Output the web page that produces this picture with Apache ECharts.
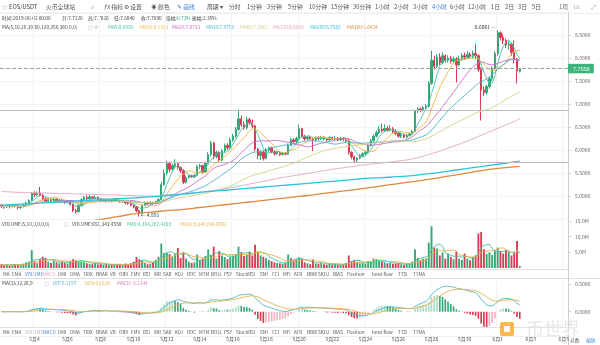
<!DOCTYPE html>
<html><head><meta charset="utf-8">
<script src="https://cdn.jsdelivr.net/npm/echarts/dist/echarts.min.js"></script>
<style>html,body{margin:0;padding:0;background:#fff}#c{width:600px;height:345px}</style>
</head><body><div id="c"></div>
<script>
// ---- categories ----
const days = ['5月2','5月3','5月4','5月5','5月6','5月7','5月8','5月9','5月10','5月11','5月12','5月13','5月14','5月15','5月16','5月17','5月18','5月19','5月20','5月21','5月22','5月23','5月24','5月25','5月26','5月27','5月28','5月29','5月30','5月31','6月1','6月2','6月3','6月4','6月5'];
const hours = ['00:00','04:00','08:00','12:00','16:00','20:00'];
const slotCount = 206;

// ---- 4h candles (EOS/USDT) ----
const open = [4.80,4.78,4.76,4.79,4.77,4.80,4.78,4.75,4.77,4.81,4.85,4.90,5.05,5.03,5.06,5.02,4.94,4.88,4.92,4.90,4.93,4.89,4.91,4.88,4.86,4.88,4.82,4.68,4.66,4.80,4.92,4.97,4.94,4.98,4.95,4.97,4.93,4.90,4.91,4.88,4.90,4.89,4.92,4.90,4.87,4.88,4.85,4.84,4.80,4.76,4.68,4.62,4.80,4.85,4.83,4.86,4.84,4.88,4.92,5.25,5.50,5.71,5.58,5.66,5.70,5.62,5.55,5.30,5.40,5.44,5.42,5.45,5.64,5.66,5.52,5.72,5.90,6.15,5.86,5.95,5.78,5.98,6.10,6.05,6.22,6.30,6.45,6.68,6.55,6.48,6.66,6.60,6.52,6.02,5.88,5.95,5.82,6.00,6.05,5.96,5.92,5.95,5.90,5.93,5.91,6.10,6.22,6.18,6.25,6.46,6.30,6.24,6.28,6.25,6.22,6.27,6.25,6.28,6.24,6.22,6.27,6.24,6.26,6.22,6.25,6.23,6.20,5.95,5.85,5.78,5.82,5.88,5.92,5.95,6.10,6.20,6.30,6.38,6.45,6.42,6.47,6.43,6.46,6.40,6.36,6.30,6.33,6.28,6.32,6.35,6.40,6.85,6.89,6.86,6.92,6.95,7.45,7.95,7.82,8.02,7.90,8.05,7.95,8.00,7.93,7.98,7.85,7.98,8.05,8.02,8.08,8.03,8.10,8.05,7.75,7.30,7.25,7.38,7.55,7.78,8.10,8.55,8.45,8.38,8.28,8.30,8.12,7.98,7.712];
const close = [4.78,4.76,4.79,4.77,4.80,4.78,4.75,4.77,4.81,4.85,4.90,5.05,5.03,5.06,5.02,4.94,4.88,4.92,4.90,4.93,4.89,4.91,4.88,4.86,4.88,4.82,4.68,4.66,4.80,4.92,4.97,4.94,4.98,4.95,4.97,4.93,4.90,4.91,4.88,4.90,4.89,4.92,4.90,4.87,4.88,4.85,4.84,4.80,4.76,4.68,4.62,4.80,4.85,4.83,4.86,4.84,4.88,4.92,5.25,5.50,5.71,5.58,5.66,5.70,5.62,5.55,5.30,5.40,5.44,5.42,5.45,5.64,5.66,5.52,5.72,5.90,6.15,5.86,5.95,5.78,5.98,6.10,6.05,6.22,6.30,6.45,6.68,6.55,6.48,6.66,6.60,6.52,6.02,5.88,5.95,5.82,6.00,6.05,5.96,5.92,5.95,5.90,5.93,5.91,6.10,6.22,6.18,6.25,6.46,6.30,6.24,6.28,6.25,6.22,6.27,6.25,6.28,6.24,6.22,6.27,6.24,6.26,6.22,6.25,6.23,6.20,5.95,5.85,5.78,5.82,5.88,5.92,5.95,6.10,6.20,6.30,6.38,6.45,6.42,6.47,6.43,6.46,6.40,6.36,6.30,6.33,6.28,6.32,6.35,6.40,6.85,6.89,6.86,6.92,6.95,7.45,7.95,7.82,8.02,7.90,8.05,7.95,8.00,7.93,7.98,7.85,7.98,8.05,8.02,8.08,8.03,8.10,8.05,7.75,7.30,7.25,7.38,7.55,7.78,8.10,8.55,8.45,8.38,8.28,8.30,8.12,7.98,7.712,7.7656];
const low = [4.74,4.72,4.74,4.73,4.75,4.75,4.71,4.72,4.75,4.79,4.83,4.88,4.98,5.00,4.99,4.90,4.85,4.86,4.87,4.88,4.86,4.87,4.85,4.83,4.84,4.79,4.65,4.62,4.64,4.79,4.90,4.91,4.92,4.92,4.93,4.90,4.87,4.87,4.86,4.86,4.86,4.87,4.88,4.85,4.85,4.82,4.81,4.78,4.73,4.65,4.551,4.60,4.78,4.80,4.81,4.81,4.82,4.86,4.90,5.22,5.45,5.52,5.53,5.60,5.58,5.50,5.26,5.27,5.38,5.39,5.40,5.43,5.58,5.48,5.50,5.70,5.86,5.80,5.82,5.74,5.76,5.95,6.00,6.03,6.18,6.27,6.42,6.50,6.44,6.45,6.55,6.47,5.98,5.80,5.78,5.77,5.80,5.96,5.93,5.88,5.89,5.87,5.88,5.88,5.90,6.08,6.14,6.15,6.23,6.26,6.20,6.21,6.22,5.98,6.18,6.21,6.22,6.21,6.18,6.20,6.21,6.21,6.19,6.20,6.19,6.16,5.90,5.80,5.73,5.74,5.80,5.85,5.89,5.93,6.07,6.18,6.27,6.35,6.38,6.39,6.40,6.40,6.37,6.32,6.27,6.26,6.25,6.25,6.29,6.32,6.38,6.80,6.82,6.84,6.88,6.93,7.42,7.75,7.78,7.85,7.86,7.90,7.90,7.88,7.88,7.47,7.82,7.94,7.96,7.98,7.98,7.99,7.98,7.70,6.64,7.18,7.20,7.33,7.50,7.75,8.05,8.38,8.30,8.22,8.18,8.05,7.88,7.45,7.684];
const high = [4.83,4.80,4.82,4.81,4.83,4.82,4.80,4.79,4.84,4.88,4.93,5.08,5.10,5.10,5.20,5.05,4.97,4.95,4.96,4.96,4.95,4.94,4.93,4.90,4.91,4.90,4.84,4.72,4.82,4.95,5.00,5.01,5.02,5.00,5.01,4.99,4.95,4.93,4.93,4.92,4.92,4.95,4.94,4.92,4.90,4.89,4.87,4.86,4.82,4.78,4.70,4.82,4.88,4.88,4.89,4.88,4.90,4.95,5.30,5.58,5.77,5.75,5.70,5.80,5.74,5.65,5.58,5.44,5.47,5.46,5.48,5.68,5.70,5.68,5.75,5.95,6.20,6.18,5.99,5.97,6.02,6.14,6.15,6.27,6.35,6.50,6.88,6.75,6.62,6.72,6.70,6.66,6.55,6.05,5.99,5.98,6.04,6.08,6.07,5.99,5.98,5.97,5.96,5.95,6.14,6.26,6.26,6.29,6.55,6.48,6.33,6.31,6.30,6.28,6.30,6.30,6.31,6.30,6.27,6.30,6.29,6.30,6.28,6.29,6.28,6.27,6.24,5.97,5.88,5.85,5.91,5.95,5.98,6.13,6.24,6.34,6.42,6.52,6.57,6.56,6.52,6.55,6.50,6.45,6.40,6.37,6.36,6.35,6.38,6.44,6.88,6.93,6.92,6.96,7.00,7.50,8.16,8.05,8.08,8.10,8.12,8.08,8.06,8.05,8.03,8.02,8.05,8.10,8.12,8.15,8.12,8.16,8.31,8.08,7.80,7.38,7.42,7.60,7.82,8.15,8.6061,8.58,8.52,8.42,8.36,8.33,8.38,8.00,7.782];
// volume in millions
const volume = [1.2,0.9,1.0,0.8,1.1,1.3,1.0,0.9,1.4,1.8,
 2.0,5.7,2.2,1.5,2.8,3.6,3.2,
 2.0,1.6,2.4,1.8,1.5,2.1,1.7,1.4,2.3,
 2.8,2.5,2.2,
 2.0,1.8,1.5,1.3,1.2,1.6,1.1,1.4,
 1.0,1.2,0.9,1.1,1.3,1.0,1.2,0.9,1.4,1.1,1.5,
 2.0,3.5,2.8,2.5,
 1.6,1.2,1.4,1.8,2.6,3.6,
 7.8,4.8,5.0,
 4.4,3.6,4.5,6.4,3.2,
 5.0,3.0,2.0,1.6,1.8,4.3,
 2.5,3.0,3.8,5.9,4.2,6.8,3.0,5.4,4.0,3.5,2.8,3.6,4.0,
 4.5,6.8,5.0,3.8,4.2,5.2,4.0,7.4,
 5.0,4.0,3.6,3.2,2.6,2.2,1.8,1.6,1.5,1.4,1.7,4.3,3.2,2.4,2.8,3.4,
 3.0,1.8,1.5,1.2,2.6,1.4,1.3,1.6,1.2,1.0,1.4,1.1,1.3,1.0,1.2,1.1,1.5,
 4.0,2.2,2.6,1.8,1.5,1.6,1.4,2.2,2.0,3.0,2.8,2.4,2.0,1.8,1.5,1.6,1.3,1.4,1.5,1.2,1.0,1.3,1.5,2.0,
 6.0,3.2,2.5,3.0,3.0,
 8.1,13.3,6.5,6.2,4.0,5.0,3.0,4.5,3.5,2.8,5.2,3.0,2.6,4.6,3.0,2.5,3.5,4.0,
 11.0,11.5,6.0,4.4,5.0,4.2,5.6,6.5,5.4,4.6,5.8,5.2,4.0,4.8,8.6,0.651];

// long moving averages (candle index -> value)
const longMaIndex = [0,6,12,18,24,30,36,42,48,54,60,66,72,78,84,90,96,102,108,114,120,126,132,138,144,150,156,162,168,174,180,186,188];
const ma120Read = [5.10,5.08,5.07,5.06,5.05,5.04,5.03,5.02,5.01,5.00,5.02,5.05,5.08,5.13,5.19,5.26,5.33,5.40,5.46,5.52,5.58,5.63,5.68,5.72,5.76,5.82,5.92,6.04,6.17,6.32,6.47,6.62,6.6843];
const ma250Read = [4.80,4.82,4.84,4.86,4.88,4.90,4.92,4.94,4.96,4.98,5.01,5.04,5.08,5.11,5.14,5.17,5.20,5.23,5.26,5.29,5.32,5.35,5.38,5.40,5.42,5.45,5.49,5.54,5.59,5.64,5.69,5.74,5.7582];
const ma360Read = [4.30,4.33,4.36,4.39,4.42,4.45,4.49,4.55,4.61,4.65,4.68,4.71,4.75,4.79,4.83,4.87,4.91,4.95,4.99,5.03,5.08,5.12,5.17,5.22,5.27,5.32,5.37,5.43,5.49,5.55,5.60,5.635,5.6434];

// price marks
const lastPrice = 7.7656;
const drawnLines = [6.874, 5.739];
const highMark = {index: 180, value: 8.6061};
const lowMark = {index: 50, value: 4.551};
const priceTicks = {min: 4.5, max: 9.0, step: 0.5};
const volTicks = {min: 0, max: 15, step: 5};
const macdLabelValues = [0, 0.5];

// ---------- build ----------
const FONT = '"Noto Sans CJK SC","Noto Sans",sans-serif';
const UP = '#33a875', DOWN = '#dc3a52';
let cats = [];
days.forEach(d => hours.forEach(h => cats.push(d + ' ' + h)));
cats = cats.slice(0, slotCount);

const candles = open.map((o, i) => [o, close[i], low[i], high[i]]);
function ma(arr, n) {
  return arr.map((v, i) => {
    const s = Math.max(0, i - n + 1); let sum = 0;
    for (let k = s; k <= i; k++) sum += arr[k];
    return +(sum / (i - s + 1)).toFixed(4);
  });
}
function sparse(idx, vals) {
  const out = new Array(close.length).fill(null);
  idx.forEach((k, j) => out[k] = vals[j]);
  return out;
}
function ema(arr, n) {
  const a = 2 / (n + 1); const out = [];
  arr.forEach((v, i) => out.push(i === 0 ? v : out[i - 1] * (1 - a) + v * a));
  return out;
}
const e12 = ema(close, 12), e26 = ema(close, 26);
const dif = e12.map((v, i) => v - e26[i]);
const dea = ema(dif, 9);
const hist = dif.map((v, i) => 2 * (v - dea[i]));

const maDefs = [
  ['MA5', ma(close, 5), '#47c1a8'],
  ['MA10', ma(close, 10), '#f0b440'],
  ['MA20', ma(close, 20), '#c56cc8'],
  ['MA30', ma(close, 30), '#49b6c9'],
  ['MA60', ma(close, 60), '#d8cf86'],
  ['MA120', sparse(longMaIndex, ma120Read), '#e2a0c4'],
  ['MA250', sparse(longMaIndex, ma250Read), '#30c2dc'],
  ['MA360', sparse(longMaIndex, ma360Read), '#dc8a3e']
];

const series = [];
series.push({
  type: 'candlestick', xAxisIndex: 0, yAxisIndex: 0, data: candles, barWidth: '68%',
  itemStyle: {color: UP, color0: DOWN, borderColor: UP, borderColor0: DOWN, borderWidth: 1},
  markLine: {
    silent: true, symbol: ['none', 'none'], animation: false,
    data: [
      {yAxis: lastPrice, lineStyle: {type: 'dashed', color: '#a0a0a0', width: 1},
       label: {show: true, position: 'end', formatter: lastPrice.toFixed(4), backgroundColor: '#3cb37a', color: '#fff', fontSize: 5.5, padding: [2, 4, 2, 5], distance: 0, fontFamily: FONT}},
      {yAxis: drawnLines[0], lineStyle: {type: 'solid', color: '#bdbdbd', width: 1.1}, label: {show: false}},
      {yAxis: drawnLines[1], lineStyle: {type: 'solid', color: '#bdbdbd', width: 1.1}, label: {show: false}}
    ]
  },
  markPoint: {
    silent: true, animation: false,
    data: [
      {coord: [cats[highMark.index], highMark.value], symbol: 'circle', symbolSize: 1, itemStyle: {color: 'rgba(0,0,0,0)'},
       label: {show: true, position: 'left', distance: 1, offset: [0, -3], formatter: highMark.value.toFixed(4) + ' ─', fontSize: 5, color: '#333'}},
      {coord: [cats[lowMark.index], lowMark.value], symbol: 'circle', symbolSize: 1, itemStyle: {color: 'rgba(0,0,0,0)'},
       label: {show: true, position: 'right', distance: 1, offset: [0, -2], formatter: '← ' + lowMark.value.toFixed(3), fontSize: 5, color: '#333'}}
    ]
  }
});
maDefs.forEach(([name, data, color]) => series.push({
  name, type: 'line', xAxisIndex: 0, yAxisIndex: 0, data, symbol: 'none', connectNulls: true,
  smooth: name === 'MA120' || name === 'MA250' || name === 'MA360',
  lineStyle: {width: name === 'MA250' || name === 'MA360' ? 1.3 : 0.9, color}, silent: true
}));
series.push({
  type: 'bar', xAxisIndex: 1, yAxisIndex: 1, barWidth: '68%',
  data: volume.map((v, i) => ({value: v, itemStyle: {color: close[i] >= open[i] ? UP : DOWN}})),
  markLine: {silent: true, symbol: ['none', 'none'], animation: false,
    data: [{yAxis: volume[volume.length - 1], lineStyle: {opacity: 0},
      label: {show: true, position: 'end', formatter: '651.3k', backgroundColor: '#f1a43a', color: '#fff', fontSize: 5.5, padding: [2, 5, 2, 5], distance: 0, fontFamily: FONT}}]}
});
series.push({type: 'line', xAxisIndex: 1, yAxisIndex: 1, data: ma(volume, 5), symbol: 'none', lineStyle: {width: 0.9, color: '#3fbf9f'}, silent: true});
series.push({type: 'line', xAxisIndex: 1, yAxisIndex: 1, data: ma(volume, 10), symbol: 'none', lineStyle: {width: 0.9, color: '#e8b04a'}, silent: true});
series.push({
  type: 'bar', xAxisIndex: 2, yAxisIndex: 2, barWidth: '60%',
  data: hist.map((v, i) => {
    const rising = i > 0 && v > hist[i - 1];
    let c;
    if (v >= 0) c = rising ? '#a9dcc3' : UP; else c = rising ? '#f0b3bf' : DOWN;
    return {value: +v.toFixed(4), itemStyle: {color: c}};
  })
});
series.push({type: 'line', xAxisIndex: 2, yAxisIndex: 2, data: dif.map(v => +v.toFixed(4)), symbol: 'none', lineStyle: {width: 0.9, color: '#4fb6c6'}, silent: true});
series.push({type: 'line', xAxisIndex: 2, yAxisIndex: 2, data: dea.map(v => +v.toFixed(4)), symbol: 'none', lineStyle: {width: 0.9, color: '#e8b04a'}, silent: true});

// ---------- graphic texts ----------
const G = [];
function T(x, y, text, fill, size, extra) {
  G.push({type: 'text', x, y, silent: true,
    style: Object.assign({text, fill: fill || '#555', fontSize: size || 5, fontFamily: FONT, textVerticalAlign: 'middle', verticalAlign: 'middle'}, extra || {})});
}
function L(x1, y1, x2, y2, c) {
  G.push({type: 'line', silent: true, shape: {x1, y1, x2, y2}, style: {stroke: c || '#e2e2e2', lineWidth: 1}});
}
// toolbar
const BLUE = '#3d7fd6';
const toolbar = [['☆', 2, '#999'], ['EOS/USDT', 9, '#333'], ['火币全球站', 46, '#555'], ['⌕', 91, '#777'], ['ƒx 指标', 104, '#555'], ['⚙ 设置', 124, '#555'], ['☀ 颜色', 151, '#555'], ['✎ 画线', 177, BLUE],
  ['周期 ▾', 207, '#444'], ['分时', 229], ['1分钟', 247], ['3分钟', 267], ['5分钟', 288], ['10分钟', 309], ['15分钟', 331], ['30分钟', 353], ['1小时', 375], ['2小时', 394], ['3小时', 413], ['4小时', 432, BLUE], ['6小时', 450], ['12小时', 468], ['1日', 491], ['2日', 505], ['3日', 518], ['5日', 532], ['1周', 559, '#777'], ['⊡', 574, '#888'], ['⤢', 591, '#888']];
toolbar.forEach(([t, x, c]) => T(x, 7, t, c || '#555', 5.8));
L(0, 13.5, 600, 13.5, '#eeeeee');
// OHLC row
[['时间:2019-06-02 00:00', 2], ['开:7.7120', 62], ['高:7.7820', 88], ['低:7.6840', 114], ['收:7.7690', 141], ['振幅:2.35%', 192]].forEach(([t, x]) => T(x, 18, t, '#444', 4.8));
T(166, 18, '涨幅:', '#444', 4.8); T(177, 18, '0.73%', UP, 4.8);
// MA row
T(2, 27, 'MA(5,10,20,30,60,120,250,360,0,0)', '#444', 4.8);
T(88, 27, '◫ ⚙', '#bbb', 5);
const maHeader = [['MA5:8.0082', 108], ['MA10:8.1313', 140], ['MA20:7.8733', 172], ['MA30:7.9750', 206], ['MA60:7.3562', 240], ['MA120:6.6843', 273], ['MA250:5.7582', 310], ['MA360:5.6434', 347]];
maHeader.forEach(([t, x], i) => T(x, 27, t, maDefs[i][2], 4.8));
// volume header
T(2, 224, 'VOLUME(5,10,0,0,0,0)', '#444', 4.8);
T(64, 224, '◫', '#bbb', 5);
T(72, 224, 'VOLUME:651,343.4558', '#444', 4.8);
T(127, 224, 'MA5:4,364,287.4188', '#3fbf9f', 4.8);
T(180, 224, 'MA10:5,040,004.8962', '#e8b04a', 4.8);
// macd header
T(2, 283, 'MACD(12,26,9)', '#444', 4.8);
T(44, 283, '◫', '#bbb', 5);
T(53, 283, 'DIF:0.1197', '#4fb6c6', 4.8);
T(85, 283, 'DEA:0.1818', '#e8b04a', 4.8);
T(117, 283, 'MACD:-0.1244', '#d77ab8', 4.8);
// indicator tab rows
const tabs = [['MA', 3], ['EMA', 12], ['VOLUME', 25], ['MACD', 43], ['DMI', 58], ['DMA', 70], ['TRIX', 83], ['BRAR', 96], ['VR', 110], ['OBV', 119], ['EMV', 131], ['RSI', 143], ['WR', 154], ['SAR', 163], ['KDJ', 175], ['ROC', 187], ['MTM', 199], ['BOLL', 211], ['PSY', 224], ['StochRSI', 236], ['SMI', 260], ['CCI', 272], ['MFI', 283], ['ATR', 294], ['BBW', 307], ['SKDJ', 318], ['BIAS', 333], ['Position', 347], ['fund-flow', 372], ['TTSI', 398], ['TTMA', 413]];
tabs.forEach(([t, x]) => {
  T(x, 274, t, t === 'VOLUME' ? BLUE : (t === 'MACD' ? '#e3a6b6' : '#555'), 4.6);
  T(x, 332, t, t === 'MACD' ? BLUE : (t === 'VOLUME' ? '#aab4c8' : '#555'), 4.6);
});
L(0, 219.5, 568, 219.5, '#dddddd');
L(0, 269.5, 568, 269.5, '#e0e0e0');
L(0, 278.5, 600, 278.5, '#e0e0e0');
L(0, 327.5, 568, 327.5, '#e0e0e0');
L(0, 336.5, 568, 336.5, '#eeeeee');
L(568.5, 12, 568.5, 345, '#cfcfcf');
T(570, 340, '对数', '#666', 4.8);
T(586, 340, '缩放', BLUE, 4.8);
// watermark
G.push({type: 'rect', silent: true, shape: {x: 500, y: 322, width: 14, height: 14, r: 2}, style: {fill: '#f5a623', opacity: 0.8}});
G.push({type: 'rect', silent: true, shape: {x: 504, y: 326, width: 6, height: 6}, style: {fill: '#fff', opacity: 0.9}});
T(526, 329, '币世界', '#e8e8e8', 18);

const option = {
  animation: false,
  textStyle: {fontFamily: FONT},
  grid: [
    {left: 0, right: 32, top: 12, height: 207},
    {left: 0, right: 32, top: 221, height: 47},
    {left: 0, right: 32, top: 281, height: 46}
  ],
  xAxis: [0, 1, 2].map(g => ({
    type: 'category', gridIndex: g, data: cats, boundaryGap: true,
    axisLine: {show: false}, axisTick: {show: false},
    axisLabel: g === 2 ? {show: true, interval: (i) => i > 0 && i % 12 === 0, formatter: v => v.split(' ')[0], fontSize: 5, color: '#555', margin: 10} : {show: false},
    splitLine: {show: true, interval: (i) => i >= 12 && (i - 12) % 24 === 0, lineStyle: {color: '#f2f2f2', width: 1}}
  })),
  yAxis: [
    {type: 'value', gridIndex: 0, position: 'right', min: priceTicks.min, max: priceTicks.max, interval: priceTicks.step,
     axisLine: {show: true, lineStyle: {color: '#cfcfcf'}}, axisTick: {show: true, length: 3, lineStyle: {color: '#cfcfcf'}},
     axisLabel: {fontSize: 5, color: '#666', margin: 7, formatter: v => v.toFixed(4), showMinLabel: false, showMaxLabel: false},
     splitLine: {show: true, lineStyle: {color: '#f4f4f4'}}},
    {type: 'value', gridIndex: 1, position: 'right', min: volTicks.min, max: volTicks.max, interval: volTicks.step,
     axisLine: {show: true, lineStyle: {color: '#cfcfcf'}}, axisTick: {show: true, length: 3, lineStyle: {color: '#cfcfcf'}},
     axisLabel: {fontSize: 5, color: '#666', margin: 7, formatter: v => v.toFixed(1) + 'M', showMinLabel: false},
     splitLine: {show: false}},
    {type: 'value', gridIndex: 2, position: 'right', min: -0.276, max: 0.554,
     axisLine: {show: true, lineStyle: {color: '#cfcfcf'}}, axisTick: {show: true, length: 3, customValues: macdLabelValues, lineStyle: {color: '#cfcfcf'}},
     axisLabel: {fontSize: 5, color: '#666', margin: 7, customValues: macdLabelValues, formatter: v => v.toFixed(4)},
     splitLine: {show: false}}
  ],
  series,
  graphic: {elements: G}
};
const chart = echarts.init(document.getElementById('c'), null, {renderer: 'canvas'});
chart.setOption(option);
</script></body></html>
